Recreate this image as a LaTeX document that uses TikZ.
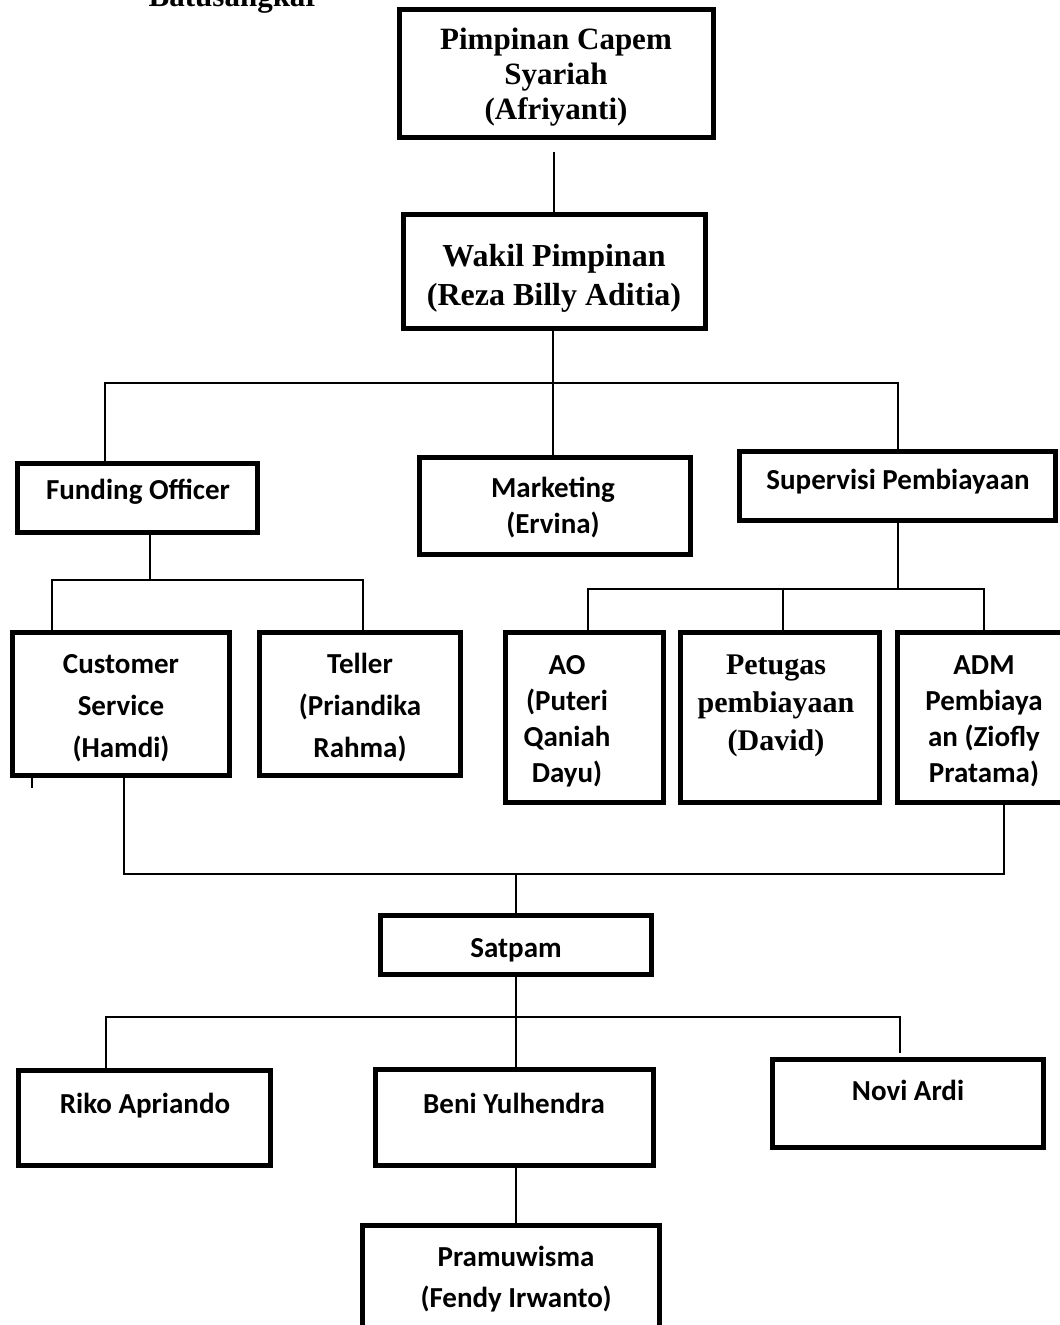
\documentclass[tikz,border=0pt]{standalone}
\usepackage{fontspec}
\setmainfont{Liberation Serif}
\newfontfamily\tnrfont{Liberation Serif}
\newfontfamily\calfont{Carlito}
\usetikzlibrary{fit}
\tikzset{
  orgbox/.style={draw=black, line width=3.75pt, inner sep=0pt, fill=none},
  conn/.style={draw=black, line width=1.4pt},
  sertext/.style={font=\tnrfont\bfseries\fontsize{23.25}{26.25}\selectfont, align=center, inner sep=0pt},
  santext/.style={font=\calfont\bfseries\fontsize{21.75}{31.5}\selectfont, align=center, inner sep=0pt},
  santight/.style={font=\calfont\bfseries\fontsize{21.75}{27}\selectfont, align=center, inner sep=0pt},
}
\begin{document}
\begin{tikzpicture}[x=0.75pt, y=-0.75pt]
\fill[white] (0,0) rectangle (1060,1325);
\useasboundingbox (0,0) rectangle (1060,1325);

% title fragment (cut by the top edge, as in the reference)
\node[sertext, anchor=base] (tbat) at (234,6) {Batusangkar};

% boxes
\node[orgbox, fit={(399.5,9.5) (713.5,137.5)}] (top) {};
\node[orgbox, fit={(403.5,214.5) (705.5,328.5)}] (wakil) {};
\node[orgbox, fit={(17.5,463.5) (257.5,532.5)}] (fund) {};
\node[orgbox, fit={(419.5,457.5) (690.5,554.5)}] (mkt) {};
\node[orgbox, fit={(739.5,451.5) (1055.5,520.5)}] (sup) {};
\node[orgbox, fit={(12.5,632.5) (229.5,775.5)}] (cs) {};
\node[orgbox, fit={(259.5,632.5) (460.5,775.5)}] (tel) {};
\node[orgbox, fit={(505.5,632.5) (663.5,802.5)}] (ao) {};
\node[orgbox, fit={(680.5,632.5) (879.5,802.5)}] (pet) {};
\node[orgbox, fit={(897.5,632.5) (1072.5,802.5)}] (adm) {};
\node[orgbox, fit={(380.5,915.5) (651.5,974.5)}] (sat) {};
\node[orgbox, fit={(18.5,1070.5) (270.5,1165.5)}] (riko) {};
\node[orgbox, fit={(375.5,1069.5) (653.5,1165.5)}] (beni) {};
\node[orgbox, fit={(772.5,1059.5) (1043.5,1147.5)}] (novi) {};
\node[orgbox, fit={(362.5,1225.5) (659.5,1345)}] (pram) {};

% texts
\node[sertext] (ttop) at (556,77.5) {Pimpinan Capem\\Syariah\\(Afriyanti)};
\node[sertext, font=\tnrfont\bfseries\fontsize{24}{29.25}\selectfont] (twak) at (554,278) {Wakil Pimpinan\\(Reza Billy Aditia)};
\node[santext] (tfund) at (138,492) {Funding Officer};
\node[santight] (tmkt) at (553,507.5) {Marketing\\(Ervina)};
\node[santext] (tsup) at (898,482) {Supervisi Pembiayaan};
\node[santext] (tcs) at (121,708.5) {Customer\\Service\\(Hamdi)};
\node[santext] (ttel) at (360,708) {Teller\\(Priandika\\Rahma)};
\node[santight] (tao) at (567,721) {AO\\(Puteri\\Qaniah\\Dayu)};
\node[sertext, font=\tnrfont\bfseries\fontsize{22.5}{28.5}\selectfont] (tpet) at (776,706) {Petugas\\pembiayaan\\(David)};
\node[santight] (tadm) at (984,721) {ADM\\Pembiaya\\an (Ziofly\\Pratama)};
\node[santext] (tsat) at (516,950) {Satpam};
\node[santext] (triko) at (145,1106) {Riko Apriando};
\node[santext] (tbeni) at (514,1103.5) {Beni Yulhendra};
\node[santext] (tnovi) at (908,1090) {Novi Ardi};
\node[santext, font=\calfont\bfseries\fontsize{21.75}{31}\selectfont] (tpram) at (516,1279) {Pramuwisma\\(Fendy Irwanto)};

% junction coordinates
\coordinate (c1) at (554,152);
\coordinate (j1) at (553,383);
\coordinate (jL) at (105,383);
\coordinate (jR) at (898,383);
\coordinate (j2) at (150,580);
\coordinate (jCS) at (52,580);
\coordinate (jT) at (363,580);
\coordinate (j3) at (898,589);
\coordinate (jA) at (588,589);
\coordinate (jP) at (783,589);
\coordinate (jD) at (984,589);
\coordinate (k1) at (124,874);
\coordinate (k2) at (1004,874);
\coordinate (k3) at (516,874);
\coordinate (t1) at (32,777);
\coordinate (t2) at (32,788);
\coordinate (m1) at (516,1017);
\coordinate (mL) at (106,1017);
\coordinate (mR) at (900,1017);
\coordinate (mN) at (900,1053);

% connectors
\draw[conn] (c1) -- (c1 |- wakil.north);
\draw[conn] (wakil.south -| j1) -- (j1);
\draw[conn] (fund.north -| jL) -- (jL) -- (jR) -- (sup.north -| jR);
\draw[conn] (mkt.north -| j1) -- (j1);
\draw[conn] (fund.south -| j2) -- (j2);
\draw[conn] (cs.north -| jCS) -- (jCS) -- (jT) -- (tel.north -| jT);
\draw[conn] (sup.south -| j3) -- (j3);
\draw[conn] (ao.north -| jA) -- (jA) -- (jD) -- (adm.north -| jD);
\draw[conn] (jP) -- (pet.north -| jP);
\draw[conn] (cs.south -| k1) -- (k1) -- (k2) -- (adm.south -| k2);
\draw[conn] (k3) -- (sat.north -| k3);
\draw[conn] (t1) -- (t2);
\draw[conn] (sat.south -| m1) -- (m1);
\draw[conn] (riko.north -| mL) -- (mL) -- (mR) -- (mN);
\draw[conn] (m1) -- (beni.north -| m1);
\draw[conn] (beni.south -| m1) -- (pram.north -| m1);
\end{tikzpicture}
\end{document}
